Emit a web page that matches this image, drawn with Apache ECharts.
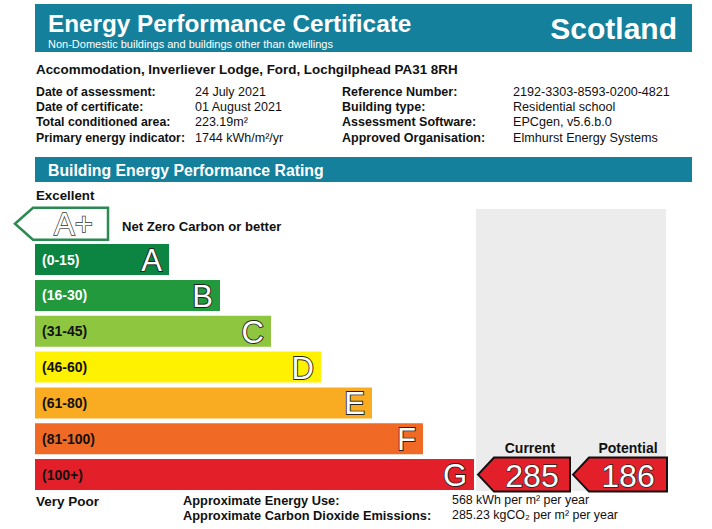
<!DOCTYPE html>
<html><head><meta charset="utf-8">
<script src="https://cdn.jsdelivr.net/npm/echarts@6/dist/echarts.min.js"></script>
<style>html,body{margin:0;padding:0;background:#fff}#c{width:712px;height:529px}</style>
</head><body><div id="c"></div>
<script>
// ---- data ----
const bands = ['A+', 'A', 'B', 'C', 'D', 'E', 'F', 'G'];
const rangeLabels = ['(0-15)', '(16-30)', '(31-45)', '(46-60)', '(61-80)', '(81-100)', '(100+)'];
const barLengths = [134, 185, 236, 286, 337, 388, 439];
const aPlusLength = 73;
const currentScore = 285, currentBand = 'G';
const potentialScore = 186, potentialBand = 'G';
const infoLabels = ['Date of assessment:', 'Date of certificate:', 'Total conditioned area:', 'Primary energy indicator:'];
const infoValues = ['24 July 2021', '01 August 2021', '223.19m²', '1744 kWh/m²/yr'];
const infoLabels2 = ['Reference Number:', 'Building type:', 'Assessment Software:', 'Approved Organisation:'];
const infoValues2 = ['2192-3303-8593-0200-4821', 'Residential school', 'EPCgen, v5.6.b.0', 'Elmhurst Energy Systems'];
const address = 'Accommodation, Inverliever Lodge, Ford, Lochgilphead PA31 8RH';
const energyUse = '568 kWh per m² per year';
const co2Emissions = '285.23 kgCO₂ per m² per year';

// ---- styles ----
const FONT = "'Liberation Sans', Arial, sans-serif";
const TEAL = '#14809c';
const bandColors = ['#0c8542', '#21993c', '#8fc640', '#fff200', '#f9ac22', '#f06a25', '#e3202a'];
const rangeTextColors = ['#fff', '#fff', '#111', '#111', '#111', '#111', '#111'];

const chart = echarts.init(document.getElementById('c'), null, {renderer: 'svg'});

function txt(x, y, text, size, bold, color, align, extra) {
  return Object.assign({type: 'text', x: x, y: y, z: 10, style: {
    text: text, font: (bold ? 'bold ' : '') + size + 'px ' + FONT,
    fill: color || '#111', align: align || 'left', verticalAlign: 'middle'}}, extra || {});
}

const graphics = [
  {type: 'rect', z: 0, shape: {x: 35, y: 4, width: 657, height: 48}, style: {fill: TEAL}},
  txt(48, 23, 'Energy Performance Certificate', 24.3, true, '#fff'),
  txt(48, 44, 'Non-Domestic buildings and buildings other than dwellings', 11, false, '#fff'),
  txt(677, 28, 'Scotland', 30, true, '#fff', 'right'),
  txt(36, 69, address, 13.4, true, '#111'),
  {type: 'rect', z: 0, shape: {x: 35, y: 157, width: 657, height: 25}, style: {fill: TEAL}},
  txt(48, 170, 'Building Energy Performance Rating', 15.8, true, '#fff'),
  txt(36, 195, 'Excellent', 13.3, true),
  txt(122, 226, 'Net Zero Carbon or better', 13.1, true),
  {type: 'rect', z: 0, shape: {x: 476, y: 209, width: 190, height: 282}, style: {fill: '#ececec'}},
  txt(530, 448, 'Current', 14, true, '#111', 'center'),
  txt(628, 448, 'Potential', 14, true, '#111', 'center'),
  txt(36, 501, 'Very Poor', 13.5, true),
  txt(183, 500, 'Approximate Energy Use:', 12.8, true),
  txt(183, 515, 'Approximate Carbon Dioxide Emissions:', 12.8, true),
  txt(452, 500, energyUse, 12.4, false),
  txt(452, 515, co2Emissions, 12.4, false)
];
const rowY = [92, 107, 122, 138];
infoLabels.forEach((t, i) => {
  graphics.push(txt(36, rowY[i], t, 12.3, true));
  graphics.push(txt(195, rowY[i], infoValues[i], 12.5, false));
  graphics.push(txt(342, rowY[i], infoLabels2[i], 12.5, true));
  graphics.push(txt(513, rowY[i], infoValues2[i], 12.6, false));
});

const option = {
  animation: false,
  backgroundColor: '#fff',
  grid: {left: 35, top: 205.8, width: 631, height: 286.7},
  xAxis: {type: 'value', min: 0, max: 631, show: false},
  yAxis: {type: 'category', data: bands, inverse: true, show: false},
  graphic: graphics,
  series: [
    {
      type: 'bar', barWidth: 31, z: 2,
      data: [null].concat(barLengths.map((v, i) => ({
        value: v,
        itemStyle: {color: bandColors[i]},
        label: {color: rangeTextColors[i]}
      }))),
      label: {
        show: true, position: 'insideLeft', distance: 7,
        formatter: p => rangeLabels[p.dataIndex - 1] || '',
        fontFamily: FONT, fontWeight: 'bold', fontSize: 14
      }
    },
    {
      type: 'custom', z: 5,
      data: barLengths.map((v, i) => [v, i + 1]),
      renderItem: (params, api) => {
        const p = api.coord([api.value(0), api.value(1)]);
        return {type: 'text', x: p[0] - 7, y: p[1] + 1, style: {
          text: bands[params.dataIndex + 1], font: '31px ' + FONT,
          fill: '#fff', stroke: '#222', lineWidth: 1.8, align: 'right', verticalAlign: 'middle'}};
      }
    },
    {
      type: 'custom', z: 5,
      data: [[aPlusLength, 0]],
      renderItem: (params, api) => {
        const p = api.coord([api.value(0), api.value(1)]);
        const o = api.coord([0, api.value(1)]);
        const h = 16;
        return {type: 'group', children: [
          {type: 'polygon', shape: {points: [[o[0] - 20, p[1]], [o[0] - 2, p[1] - h], [p[0], p[1] - h], [p[0], p[1] + h], [o[0] - 2, p[1] + h]]},
            style: {fill: '#fff', stroke: '#2b8a52', lineWidth: 2.5}},
          {type: 'text', x: (o[0] + p[0]) / 2 + 2, y: p[1] + 1, style: {text: 'A+', font: '31px ' + FONT,
            fill: '#fff', stroke: '#333', lineWidth: 1.4, align: 'center', verticalAlign: 'middle'}}
        ]};
      }
    },
    {
      type: 'custom', z: 6,
      data: [[currentScore, bands.indexOf(currentBand), 0], [potentialScore, bands.indexOf(potentialBand), 1]],
      renderItem: (params, api) => {
        const cols = [[478, 570], [573, 667]];
        const c = cols[api.value(2)];
        const yc = api.coord([0, api.value(1)])[1];
        const h = 17;
        const bandIdx = api.value(1) - 1;
        return {type: 'group', children: [
          {type: 'polygon', shape: {points: [[c[0], yc], [c[0] + 16, yc - h], [c[1], yc - h], [c[1], yc + h], [c[0] + 16, yc + h]]},
            style: {fill: bandColors[bandIdx], stroke: '#111', lineWidth: 2}},
          {type: 'text', x: (c[0] + 16 + c[1]) / 2, y: yc + 1, style: {text: String(api.value(0)), font: '32px ' + FONT,
            fill: '#fff', stroke: '#222', lineWidth: 1.5, align: 'center', verticalAlign: 'middle'}}
        ]};
      }
    }
  ]
};
chart.setOption(option);
</script></body></html>
